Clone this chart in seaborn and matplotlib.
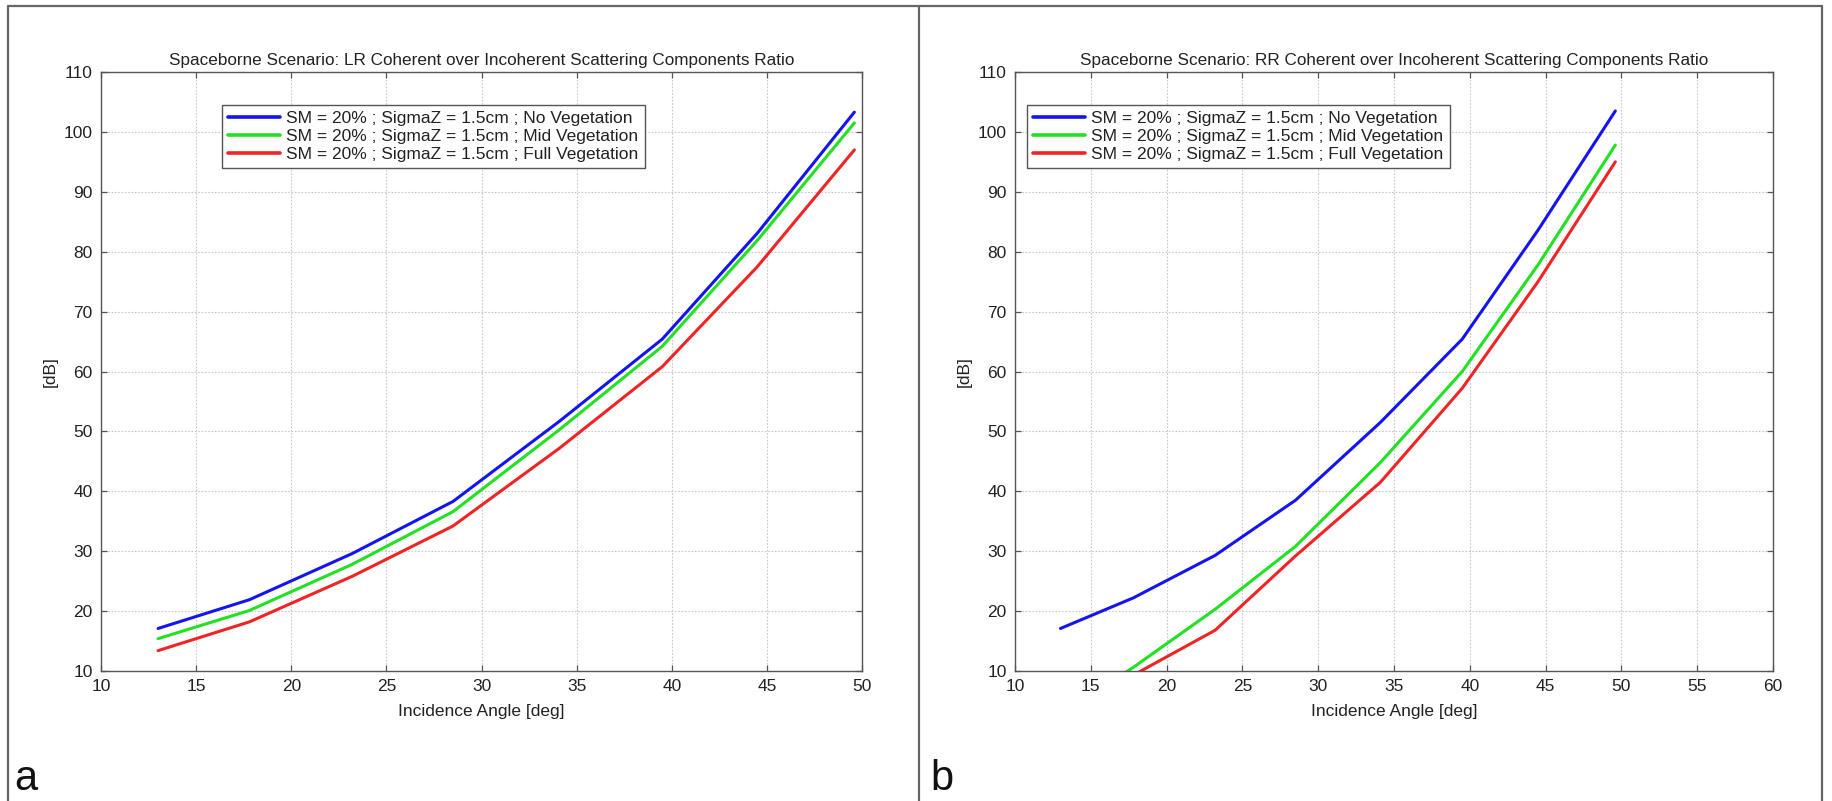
import numpy as np
import pandas as pd
import matplotlib
matplotlib.use("Agg")
import matplotlib.pyplot as plt
import seaborn as sns
from matplotlib.lines import Line2D

# ---------------- data ----------------
angles = [13.0, 17.8, 23.2, 28.5, 34.1, 39.5, 44.5, 49.6]

series_labels = [
    "SM = 20% ; SigmaZ = 1.5cm ; No Vegetation",
    "SM = 20% ; SigmaZ = 1.5cm ; Mid Vegetation",
    "SM = 20% ; SigmaZ = 1.5cm ; Full Vegetation",
]

lr_no_veg = [17.1, 21.9, 29.6, 38.3, 51.7, 65.4, 83.1, 103.3]
lr_mid_veg = [15.4, 20.1, 27.8, 36.6, 50.3, 64.2, 81.9, 101.5]
lr_full_veg = [13.4, 18.2, 25.8, 34.2, 47.2, 60.8, 77.5, 97.0]

rr_no_veg = [17.1, 22.2, 29.3, 38.5, 51.5, 65.4, 83.6, 103.5]
rr_mid_veg = [2.8, 10.6, 20.3, 30.8, 44.8, 60.0, 77.8, 97.8]
rr_full_veg = [1.5, 9.3, 16.8, 29.2, 41.5, 57.2, 75.0, 95.0]

titles = [
    "Spaceborne Scenario: LR Coherent over Incoherent Scattering Components Ratio",
    "Spaceborne Scenario: RR Coherent over Incoherent Scattering Components Ratio",
]
xlabel = "Incidence Angle [deg]"
ylabel = "[dB]"
panel_letters = ["a", "b"]
left_xticks = [10, 15, 20, 25, 30, 35, 40, 45, 50]
right_xticks = [10, 15, 20, 25, 30, 35, 40, 45, 50, 55, 60]
yticks = [10, 20, 30, 40, 50, 60, 70, 80, 90, 100, 110]

colors = ["#1414f0", "#22e022", "#f02424"]


def long_frame(values_list):
    rows = []
    for lab, vals in zip(series_labels, values_list):
        for a, v in zip(angles, vals):
            rows.append({"angle": a, "ratio": v, "series": lab})
    return pd.DataFrame(rows)


df_lr = long_frame([lr_no_veg, lr_mid_veg, lr_full_veg])
df_rr = long_frame([rr_no_veg, rr_mid_veg, rr_full_veg])

# ---------------- style ----------------
sns.set_theme(style="white")
plt.rcParams["font.family"] = ["Liberation Sans", "DejaVu Sans"]
plt.rcParams["xtick.direction"] = "in"
plt.rcParams["ytick.direction"] = "in"

W, H = 1832, 801
fig = plt.figure(figsize=(W / 100, H / 100), dpi=100)
fig.patch.set_facecolor("white")


def px_axes(l, r, t, b):
    return [l / W, 1 - b / H, (r - l) / W, (b - t) / H]


ax_l = fig.add_axes(px_axes(101, 862, 72, 671))
ax_r = fig.add_axes(px_axes(1015, 1773, 72, 671))

palette = dict(zip(series_labels, colors))

for ax, df, title, xt, leg_x in [
    (ax_l, df_lr, titles[0], left_xticks, (222 - 101) / 761),
    (ax_r, df_rr, titles[1], right_xticks, (1027 - 1015) / 758),
]:
    sns.lineplot(data=df, x="angle", y="ratio", hue="series",
                 hue_order=series_labels, palette=palette,
                 linewidth=2.2, ax=ax, legend=False, sort=False)
    ax.set_xlim(xt[0], xt[-1])
    ax.set_ylim(10, 110)
    ax.set_xticks(xt)
    ax.set_yticks(yticks)
    ax.grid(True, color="#c8c8c8", linestyle=(0, (1.5, 1.5)), linewidth=0.8)
    ax.set_axisbelow(True)
    for s in ax.spines.values():
        s.set_color("#555555")
        s.set_linewidth(1.0)
        s.set_visible(True)
    ax.tick_params(axis="both", which="both", direction="in", length=4,
                   width=0.9, color="#555555", labelsize=12.5,
                   labelcolor="#222222", top=True, right=True,
                   left=True, bottom=True, pad=6)
    ax.set_title(title, fontsize=12.3, color="#222222", pad=5)
    ax.set_xlabel(xlabel, fontsize=12.5, color="#222222", labelpad=7)
    ax.set_ylabel(ylabel, fontsize=12.5, color="#222222", labelpad=4)
    handles = [Line2D([0], [0], color=c, lw=2.6) for c in colors]
    leg = ax.legend(handles, series_labels, loc="upper left",
                    bbox_to_anchor=(leg_x, (671 - 105) / 599),
                    borderaxespad=0, fontsize=12.5, frameon=True,
                    fancybox=False, framealpha=1, edgecolor="#555555",
                    handlelength=3.0, handletextpad=0.35, labelspacing=0.15,
                    borderpad=0.35)
    leg.get_frame().set_linewidth(1.0)
    for t in leg.get_texts():
        t.set_color("#222222")

# panel frames
frame_kw = dict(color="#666666", linewidth=1.6, transform=fig.transFigure)
fig.add_artist(Line2D([8 / W, 1822 / W], [1 - 6 / H, 1 - 6 / H], **frame_kw))
fig.add_artist(Line2D([8 / W, 8 / W], [0, 1 - 6 / H], **frame_kw))
fig.add_artist(Line2D([919 / W, 919 / W], [0, 1 - 6 / H], **frame_kw))
fig.add_artist(Line2D([1822 / W, 1822 / W], [0, 1 - 6 / H], **frame_kw))

fig.text(14 / W, 1 - 790 / H, panel_letters[0], fontsize=30, color="#111111",
         ha="left", va="baseline")
fig.text(930 / W, 1 - 790 / H, panel_letters[1], fontsize=30, color="#111111",
         ha="left", va="baseline")

fig.savefig("out.png", dpi=100, facecolor="white")
